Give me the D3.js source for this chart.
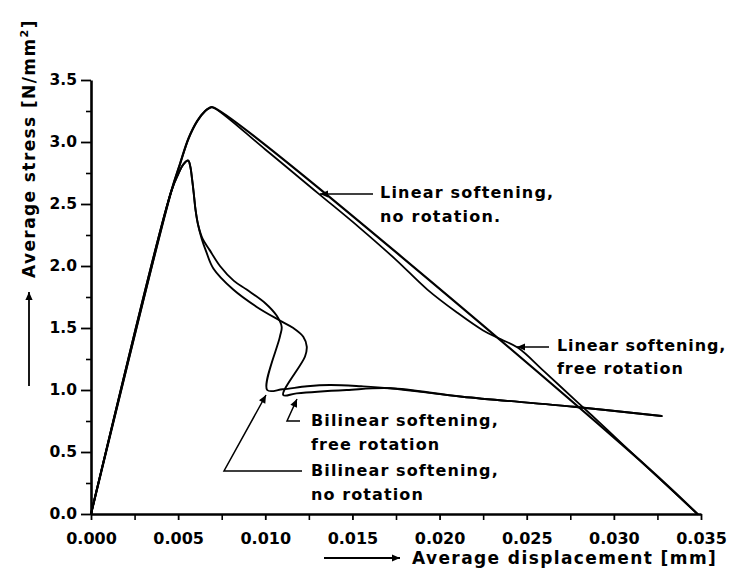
<!DOCTYPE html>
<html><head><meta charset="utf-8">
<script src="https://cdn.jsdelivr.net/npm/d3@7"></script>
<style>
body{margin:0;background:#fff}
svg{display:block;background:#fff}
text{font-family:"DejaVu Sans",sans-serif;font-weight:bold;fill:#000}
</style></head><body>
<svg id="c" width="731" height="572"></svg>
<script>
// ---- data ----
const xTicks = [0, 0.005, 0.010, 0.015, 0.020, 0.025, 0.030, 0.035];
const xMinorTicks = [0.0025, 0.0075, 0.0125, 0.0175, 0.0225, 0.0275, 0.0325];
const yTicks = [0, 0.5, 1.0, 1.5, 2.0, 2.5, 3.0, 3.5];
const yMinorTicks = [0.25, 0.75, 1.25, 1.75, 2.25, 2.75, 3.25];

const linearNoRotation = [[0,0],[0.0046,2.60],[0.0051,2.82],[0.0056,3.03],[0.0061,3.17],[0.00655,3.25],[0.0068,3.275],[0.00698,3.28],[0.0306,0.543],[0.0348,0]];
const linearFreeRotation = [[0,0],[0.0046,2.60],[0.0051,2.82],[0.0056,3.03],[0.0061,3.17],[0.00655,3.25],[0.0068,3.275],[0.00698,3.28],[0.0100,2.94],[0.0130,2.59],[0.0154,2.31],[0.0175,2.05],[0.0193,1.81],[0.0210,1.625],[0.0225,1.48],[0.0235,1.41],[0.0245,1.34],[0.0260,1.15],[0.0280,0.89],[0.0292,0.735],[0.0306,0.55],[0.0348,0]];
const bilinearNoRotation = [[0,0],[0.0046,2.60],[0.0050,2.74],[0.0053,2.82],[0.00558,2.85],[0.0057,2.80],[0.0058,2.70],[0.0059,2.58],[0.0060,2.45],[0.00615,2.33],[0.0064,2.22],[0.0068,2.13],[0.0074,2.00],[0.0082,1.88],[0.00893,1.81],[0.0100,1.70],[0.01065,1.60],[0.01094,1.51],[0.01084,1.43],[0.01011,1.00],[0.0110,1.006],[0.0124,1.03],[0.0137,1.04],[0.0155,1.03],[0.01716,1.014],[0.0213,0.946],[0.0277,0.865],[0.03274,0.79]];
const bilinearFreeRotation = [[0,0],[0.0046,2.60],[0.0050,2.74],[0.0053,2.82],[0.00558,2.85],[0.0057,2.80],[0.0058,2.70],[0.0059,2.58],[0.0060,2.45],[0.00613,2.34],[0.00635,2.22],[0.0066,2.12],[0.00702,1.98],[0.00816,1.81],[0.00951,1.67],[0.01084,1.56],[0.01161,1.50],[0.01218,1.43],[0.01238,1.35],[0.01228,1.27],[0.01103,0.96],[0.0118,0.973],[0.01467,1.00],[0.01716,1.014],[0.0213,0.946],[0.0277,0.865],[0.03274,0.79]];

const labelTexts = [
  ["Linear softening,", "no rotation."],
  ["Linear softening,", "free rotation"],
  ["Bilinear softening,", "free rotation"],
  ["Bilinear softening,", "no rotation"]
];
const xTitle = "Average displacement [mm]";
const yTitle = "Average stress [N/mm";

// ---- layout ----
const svg = d3.select("#c");
const x = d3.scaleLinear().domain([0, 0.035]).range([91, 701]);
const y = d3.scaleLinear().domain([0, 3.5]).range([514, 80]);

const defs = svg.append("defs");
defs.append("marker").attr("id","arr").attr("viewBox","0 0 10 10")
  .attr("refX",10).attr("refY",5).attr("markerWidth",11).attr("markerHeight",8)
  .attr("markerUnits","userSpaceOnUse").attr("orient","auto")
  .append("path").attr("d","M0,0.5 L10,5 L0,9.5 Z").attr("fill","#000");

// minor ticks
svg.append("g").attr("transform","translate(91,0)")
  .call(d3.axisLeft(y).tickValues(yMinorTicks).tickSize(5).tickFormat(""))
  .call(g=>g.select(".domain").remove())
  .call(g=>g.selectAll("line").attr("stroke-width",1.6));
svg.append("g").attr("transform","translate(0,514)")
  .call(d3.axisBottom(x).tickValues(xMinorTicks).tickSize(6).tickFormat(""))
  .call(g=>g.select(".domain").remove())
  .call(g=>g.selectAll("line").attr("stroke-width",1.6));

// major axes
svg.append("g").attr("transform","translate(91,0)")
  .call(d3.axisLeft(y).tickValues(yTicks).tickSize(10).tickSizeOuter(0).tickPadding(4).tickFormat(d3.format(".1f")))
  .call(g=>g.select(".domain").attr("stroke-width",2.6))
  .call(g=>g.selectAll("line").attr("stroke-width",1.8))
  .call(g=>g.selectAll("text").attr("font-size",15.5).attr("font-family","DejaVu Sans").attr("font-weight","bold"));
svg.append("g").attr("transform","translate(0,514)")
  .call(d3.axisBottom(x).tickValues(xTicks).tickSize(6).tickSizeOuter(0).tickPadding(13).tickFormat(d3.format(".3f")))
  .call(g=>g.select(".domain").attr("stroke-width",2.6))
  .call(g=>g.selectAll("line").attr("stroke-width",1.8))
  .call(g=>g.selectAll("text").attr("font-size",16).attr("font-family","DejaVu Sans").attr("font-weight","bold"));

// curves
const line = d3.line().x(d=>x(d[0])).y(d=>y(d[1])).curve(d3.curveCatmullRom.alpha(0.5));
[[linearNoRotation,2.2],[linearFreeRotation,1.8],[bilinearNoRotation,1.9],[bilinearFreeRotation,1.9]].forEach(([d,w])=>{
  svg.append("path").attr("d",line(d)).attr("fill","none").attr("stroke","#000")
    .attr("stroke-width",w).attr("stroke-linejoin","round").attr("stroke-linecap","round");
});

// annotations
const annPos = [
  {x:380, y:198, dy:24, ls:1.2, leader:[[373,194],[320,194]]},
  {x:557, y:351, dy:23, ls:0.9, leader:[[549,347],[517,347]]},
  {x:311, y:426, dy:23.5, ls:1.1, leader:[[300,421],[287,421],[297,399]]},
  {x:311, y:476, dy:23.5, ls:1.1, leader:[[302,471],[224,471],[266,395]]}
];
annPos.forEach((a,i)=>{
  const t = svg.append("text").attr("font-size",16).style("letter-spacing",a.ls+"px");
  labelTexts[i].forEach((s,j)=>t.append("tspan").attr("x",a.x).attr("y",a.y+j*a.dy).text(s));
  svg.append("path").attr("d",d3.line()(a.leader)).attr("fill","none").attr("stroke","#000")
    .attr("stroke-width",1.5).attr("marker-end","url(#arr)");
});

// axis titles
svg.append("text").attr("x",412).attr("y",564).attr("font-size",17).style("letter-spacing","1.4px").text(xTitle);
svg.append("line").attr("x1",324).attr("y1",558).attr("x2",400).attr("y2",558)
  .attr("stroke","#000").attr("stroke-width",1.8).attr("marker-end","url(#arr)");

const yt = svg.append("text").attr("transform","translate(35,278) rotate(-90)")
  .attr("font-size",17).style("letter-spacing","1.4px");
yt.append("tspan").text(yTitle);
yt.append("tspan").attr("font-size",11).attr("dy",-7).text("2");
yt.append("tspan").attr("dy",7).text("]");
svg.append("line").attr("x1",29).attr("y1",386).attr("x2",29).attr("y2",292)
  .attr("stroke","#000").attr("stroke-width",1.8).attr("marker-end","url(#arr)");
</script>
</body></html>
